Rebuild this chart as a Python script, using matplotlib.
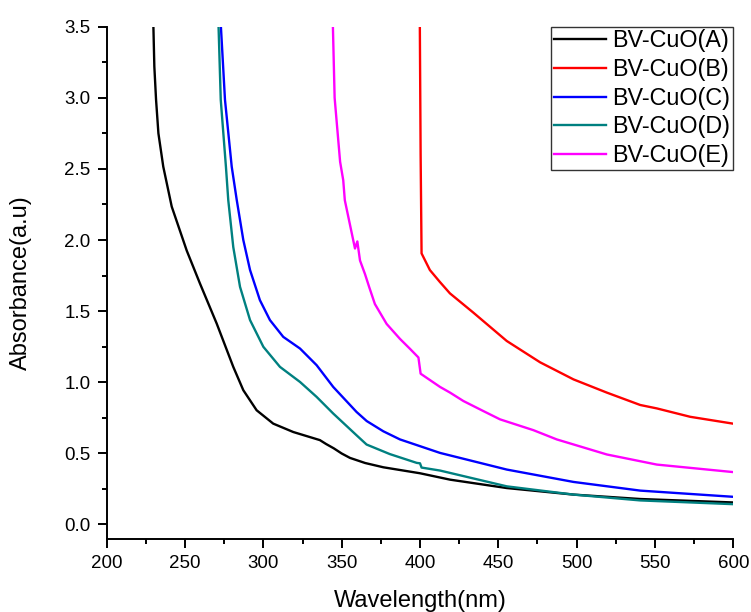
import matplotlib
matplotlib.use("Agg")
import matplotlib.pyplot as plt
from matplotlib.ticker import MultipleLocator, FormatStrFormatter

plt.rcParams['font.family'] = ['Liberation Sans', 'DejaVu Sans']

labels = ["BV-CuO(A)", "BV-CuO(B)", "BV-CuO(C)", "BV-CuO(D)", "BV-CuO(E)"]
colors = ["#000000", "#ff0000", "#0000ff", "#008080", "#ff00ff"]

wl_A = [229.8, 230.4, 231.5, 233.0, 236.1, 241.5, 251.1, 259.5, 270.2, 280.8, 287.2, 295.7,
        306.3, 319.1, 336.1, 340.0, 345.0, 350.0, 355.3, 365.0, 376.6, 400.0, 419.2, 455.4, 498.0, 540.6, 599.2]
ab_A = [3.50, 3.22, 2.986, 2.75, 2.516, 2.235, 1.925, 1.695, 1.413, 1.108, 0.944, 0.803,
        0.709, 0.650, 0.593, 0.566, 0.535, 0.499, 0.468, 0.432, 0.402, 0.360, 0.315, 0.256, 0.210, 0.179, 0.155]

wl_B = [399.9, 400.4, 401.0, 406.3, 412.7, 419.1, 434.0, 455.4, 476.7, 498.0, 519.3, 540.6, 551.2, 572.5, 599.2]
ab_B = [3.50, 2.60, 1.906, 1.789, 1.705, 1.625, 1.49, 1.29, 1.14, 1.02, 0.927, 0.84, 0.816, 0.757, 0.71]

wl_C = [272.9, 275.5, 279.8, 283.0, 287.2, 291.5, 297.8, 304.2, 312.7, 323.4, 334.0, 344.6, 359.5,
        366.0, 376.6, 387.2, 412.8, 455.4, 498.0, 540.6, 599.2]
ab_C = [3.50, 2.986, 2.516, 2.282, 2.0, 1.789, 1.577, 1.437, 1.319, 1.237, 1.12, 0.967, 0.791,
        0.727, 0.655, 0.598, 0.503, 0.386, 0.299, 0.238, 0.195]

wl_D = [271.4, 272.8, 276.1, 277.6, 280.8, 285.1, 291.5, 300.0, 310.6, 323.4, 334.0, 344.6, 359.5,
        365.9, 380.7, 397.9, 400.0, 401.0, 412.8, 455.4, 498.0, 540.6, 599.2]
ab_D = [3.50, 2.986, 2.516, 2.28, 1.95, 1.671, 1.437, 1.249, 1.108, 1.002, 0.897, 0.78, 0.627,
        0.562, 0.495, 0.433, 0.43, 0.40, 0.379, 0.268, 0.21, 0.169, 0.143]

wl_E = [344.4, 345.5, 349.0, 351.0, 352.0, 358.5, 360.0, 361.7, 364.9, 367.6, 371.2, 378.7, 387.2,
        393.6, 399.0, 400.4, 412.8, 419.2, 427.7, 440.5, 451.1, 472.4, 487.3, 519.3, 551.2, 599.2]
ab_E = [3.50, 3.0, 2.55, 2.42, 2.28, 1.94, 1.99, 1.856, 1.76, 1.668, 1.55, 1.41, 1.305,
        1.235, 1.174, 1.06, 0.967, 0.927, 0.868, 0.797, 0.739, 0.663, 0.598, 0.492, 0.421, 0.369]

series = [(wl_A, ab_A), (wl_B, ab_B), (wl_C, ab_C), (wl_D, ab_D), (wl_E, ab_E)]

fig = plt.figure(figsize=(7.51, 6.12), dpi=100)
ax = fig.add_axes([0.1421, 0.1198, 0.8343, 0.8366])

for (x, y), lab, c in zip(series, labels, colors):
    ax.plot(x, y, color=c, lw=1.7, label=lab, solid_joinstyle='round')

ax.set_xlim(200, 600)
ax.set_ylim(-0.1, 3.5)
ax.xaxis.set_major_locator(MultipleLocator(50))
ax.xaxis.set_minor_locator(MultipleLocator(25))
ax.yaxis.set_major_locator(MultipleLocator(0.5))
ax.yaxis.set_minor_locator(MultipleLocator(0.25))
ax.yaxis.set_major_formatter(FormatStrFormatter('%.1f'))
ax.spines['top'].set_visible(False)
ax.spines['right'].set_visible(False)
for s in ('left', 'bottom'):
    ax.spines[s].set_linewidth(1.4)
ax.tick_params(which='major', direction='out', length=6.5, width=1.4, labelsize=13.5, pad=5)
ax.tick_params(which='minor', direction='out', length=3.5, width=1.4)

ax.set_xlabel("Wavelength(nm)", fontsize=17)
ax.set_ylabel("Absorbance(a.u)", fontsize=17)
ax.xaxis.set_label_coords(0.5, -0.1)
ax.yaxis.set_label_coords(-0.119, 0.5)

leg = ax.legend(loc='upper right', bbox_to_anchor=(1.0, 1.0), fontsize=16.8,
                frameon=True, fancybox=False, edgecolor='black', borderaxespad=0,
                handlelength=2.23, handletextpad=0.29, labelspacing=0.24, borderpad=0.12)
leg.get_frame().set_linewidth(1.0)

fig.savefig("out.png", dpi=100)
